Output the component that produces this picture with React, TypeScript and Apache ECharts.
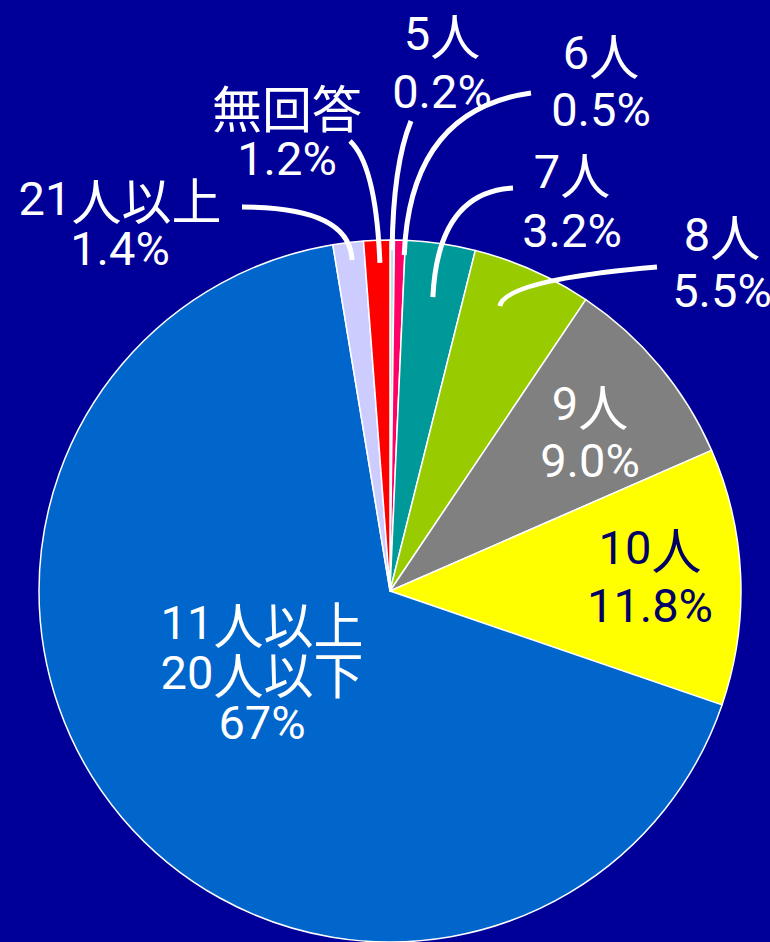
import React, { useEffect, useRef } from "react";
import * as echarts from "echarts";

// ---- data ----
const categories = ["5人", "6人", "7人", "8人", "9人", "10人", "11人以上\n20人以下", "21人以上", "無回答"];
const percents = [0.2, 0.5, 3.2, 5.5, 9.0, 11.8, 67, 1.4, 1.2];
const sliceColors = ["#C2E2E2", "#FF0066", "#009999", "#99CC00", "#808080", "#FFFF00", "#0066CC", "#CCCCFF", "#FF0000"];
const insideLabels = [false, false, false, false, true, true, true, false, false];
const labelColors = ["#fff", "#fff", "#fff", "#fff", "#fff", "#000066", "#fff", "#fff", "#fff"];

// ---- layout ----
const CX = 390;
const CY = 591;
const R = 351;
const labelPos: number[][] = [
  [442, 62], [601, 81], [572, 201], [722, 262], [590, 432],
  [650, 576], [262, 672], [120, 223], [287, 132],
];
const lineHeights = [58, 57, 59, 56, 57, 58, 50, 50, 52];
// leader lines: anchor inside the slice (radius factor rf, angle offset da in degrees),
// quadratic control point and the end point near the label
const leaders: { idx: number; rf: number; da: number; ctrl: number[]; end: number[] }[] = [
  { idx: 0, rf: 0.971, da: 0, ctrl: [393, 165], end: [411, 121] },
  { idx: 1, rf: 0.958, da: 0.8, ctrl: [410, 110], end: [531, 93] },
  { idx: 2, rf: 0.846, da: 0, ctrl: [438, 192], end: [513, 188] },
  { idx: 3, rf: 0.87, da: -2.9, ctrl: [505, 280], end: [657, 267] },
  { idx: 7, rf: 0.949, da: 0.3, ctrl: [350, 207], end: [242, 207] },
  { idx: 8, rf: 0.935, da: 0.4, ctrl: [376, 165], end: [350, 141] },
];

const LATIN_FONT = "Roboto";
const CJK_FONT = '"Noto Sans CJK JP"';

function anchorPoint(i: number, rf: number, da: number): number[] {
  const total = percents.reduce((a, b) => a + b, 0);
  let cum = 0;
  for (let k = 0; k < i; k++) cum += percents[k];
  const mid = (cum + percents[i] / 2) / total;
  const a = ((90 - 360 * mid - da) * Math.PI) / 180;
  const r = R * rf;
  return [CX + r * Math.cos(a), CY - r * Math.sin(a)];
}

function fmt(v: number): string {
  return v >= 50 ? String(Math.round(v)) : v.toFixed(1);
}

function richLine(line: string): string {
  const parts = line.match(/[\u3000-\u9fff]+|[^\u3000-\u9fff]+/g) || [];
  return parts.map((s) => (/[\u3000-\u9fff]/.test(s) ? `{c|${s}}` : `{d|${s}}`)).join("");
}

export default function App() {
  const ref = useRef<HTMLDivElement>(null);
  useEffect(() => {
    if (!ref.current) return;
    const chart = echarts.init(ref.current, undefined, { renderer: "svg" });
    const data = categories.map((name, i) => ({
      name,
      value: percents[i],
      itemStyle: { color: sliceColors[i] },
      label: {
        position: insideLabels[i] ? "inside" : "outside",
        color: labelColors[i],
        lineHeight: lineHeights[i],
      },
    }));
    const graphicEls = leaders.map((L) => {
      const p0 = anchorPoint(L.idx, L.rf, L.da);
      return {
        type: "bezierCurve",
        z: 100,
        silent: true,
        shape: {
          x1: L.end[0],
          y1: L.end[1],
          cpx1: L.ctrl[0],
          cpy1: L.ctrl[1],
          x2: p0[0],
          y2: p0[1],
        },
        style: { stroke: "#ffffff", lineWidth: 5, fill: null },
      };
    });
    chart.setOption({
      animation: false,
      backgroundColor: "#000099",
      graphic: { elements: graphicEls },
      series: [
        {
          type: "pie",
          center: [CX, CY],
          radius: [0, R],
          startAngle: 90,
          clockwise: true,
          avoidLabelOverlap: false,
          silent: true,
          itemStyle: { borderColor: "#ffffff", borderWidth: 1.5 },
          label: {
            show: true,
            fontFamily: LATIN_FONT,
            fontSize: 47,
            align: "center",
            overflow: "none",
            formatter: (p: any) =>
              `${p.name}\n${fmt(p.value)}%`.split("\n").map(richLine).join("\n"),
            rich: {
              d: { fontFamily: LATIN_FONT, fontSize: 47 },
              c: { fontFamily: CJK_FONT, fontSize: 50 },
            },
          },
          labelLine: { show: false },
          labelLayout: (p: any) => ({
            x: labelPos[p.dataIndex][0],
            y: labelPos[p.dataIndex][1],
            align: "center",
            verticalAlign: "middle",
          }),
          data,
        },
      ],
    });
    return () => chart.dispose();
  }, []);
  return (
    <div
      ref={ref}
      style={{ position: "absolute", left: 0, top: 0, width: 770, height: 942 }}
    />
  );
}
